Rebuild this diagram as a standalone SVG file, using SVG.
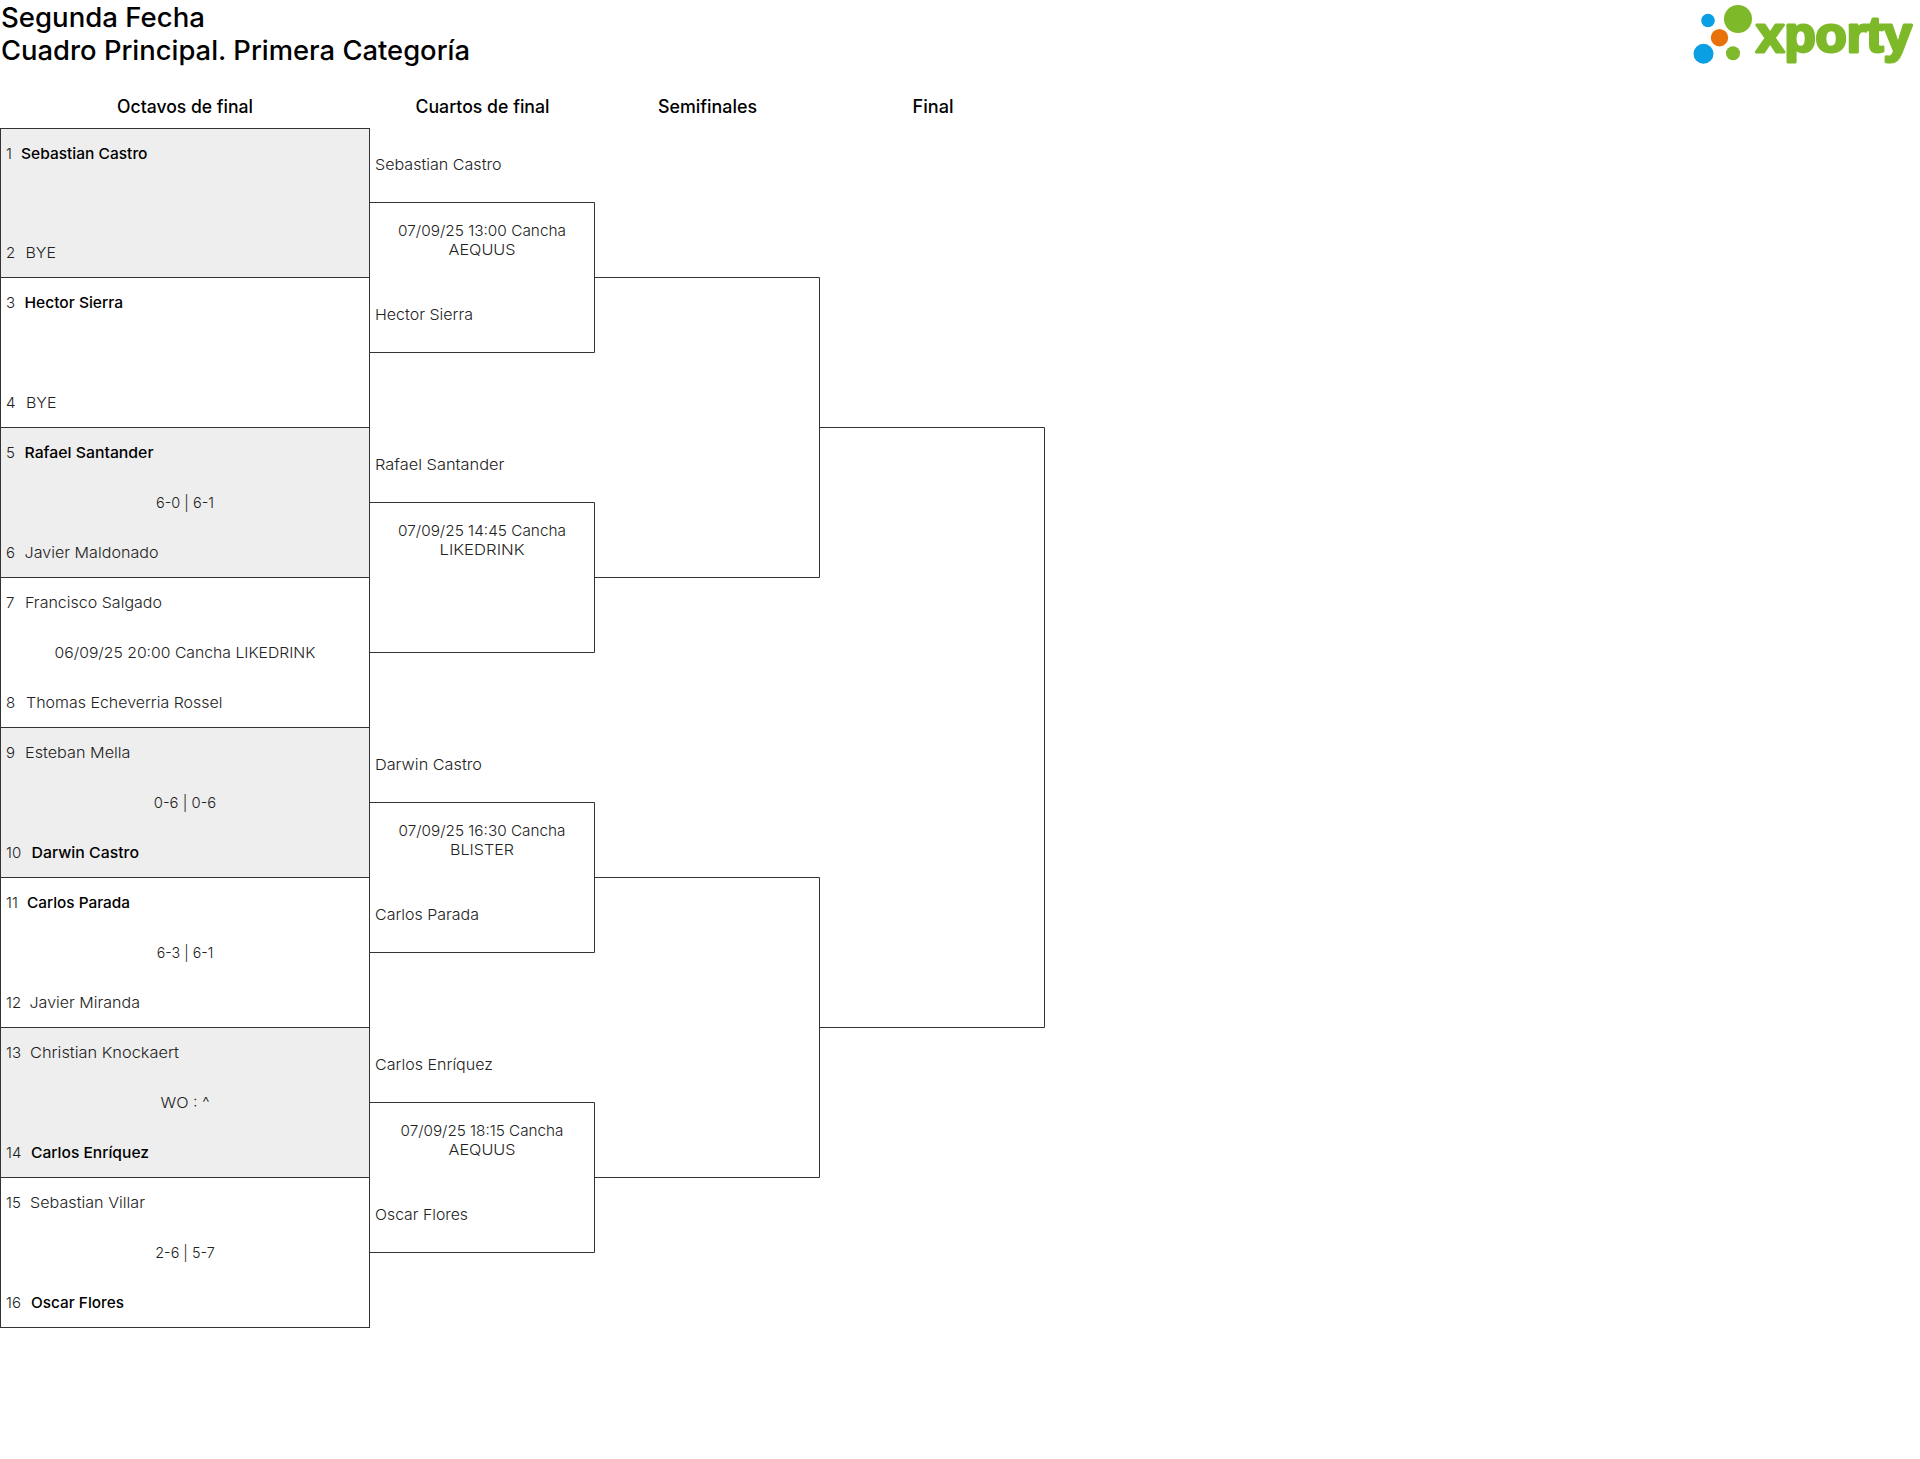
<svg xmlns="http://www.w3.org/2000/svg" width="1920" height="1459" viewBox="0 0 1920 1459">
<style>
text{font-family:"Inter","Open Sans","Liberation Sans",sans-serif;font-size:15px;fill:#222;font-weight:300}
.t{font-size:27px;fill:#000;font-weight:500}
.h{font-size:18px;fill:#000;font-weight:500;text-anchor:middle}
.w{fill:#000;font-weight:500}
.c{text-anchor:middle}
.box{stroke:#333;stroke-width:1}
.g{fill:#eee}
.n{fill:#fff}
.con{fill:none;stroke:#333;stroke-width:1}
.logo{font-family:"Liberation Sans",Arial,sans-serif;font-size:50px;font-weight:700;fill:#7db928;stroke:#7db928;stroke-width:3;stroke-linejoin:round}
</style>
<rect width="1920" height="1459" fill="#fff"/>
<g id="title">
<text class="t" x="1" y="26.5" textLength="204" lengthAdjust="spacingAndGlyphs">Segunda Fecha</text>
<text class="t" x="1" y="59.5" textLength="469" lengthAdjust="spacingAndGlyphs">Cuadro Principal. Primera Categoría</text>
</g>
<g id="logo">
<circle cx="1738" cy="19" r="14" fill="#7db928"/>
<circle cx="1708" cy="20.5" r="6.8" fill="#0a9fe3"/>
<circle cx="1719.5" cy="37.7" r="8.7" fill="#e8710a"/>
<circle cx="1703.5" cy="53.7" r="10" fill="#0a9fe3"/>
<circle cx="1733" cy="53.3" r="7" fill="#7db928"/>
<text class="logo" x="1756" y="52" textLength="156" lengthAdjust="spacingAndGlyphs">xporty</text>
</g>
<g id="headers">
<text class="h" x="185" y="113" textLength="136" lengthAdjust="spacingAndGlyphs">Octavos de final</text>
<text class="h" x="482.5" y="113" textLength="134" lengthAdjust="spacingAndGlyphs">Cuartos de final</text>
<text class="h" x="707.5" y="113" textLength="99" lengthAdjust="spacingAndGlyphs">Semifinales</text>
<text class="h" x="933" y="113" textLength="41" lengthAdjust="spacingAndGlyphs">Final</text>
</g>
<g id="connectors">
<path class="con" d="M369.5 202.5H594.5V352.5H369.5"/>
<path class="con" d="M369.5 502.5H594.5V652.5H369.5"/>
<path class="con" d="M369.5 802.5H594.5V952.5H369.5"/>
<path class="con" d="M369.5 1102.5H594.5V1252.5H369.5"/>
<path class="con" d="M594.5 277.5H819.5V577.5H594.5"/>
<path class="con" d="M594.5 877.5H819.5V1177.5H594.5"/>
<path class="con" d="M819.5 427.5H1044.5V1027.5H819.5"/>
</g>
<g id="match-1">
<rect class="box g" x="0.5" y="128.5" width="369" height="149"/>
<text x="6" y="158.5">1</text><text class="w" x="21" y="158.5" textLength="126.5" lengthAdjust="spacingAndGlyphs">Sebastian Castro</text>
<text x="6" y="257.5">2</text><text x="25.5" y="257.5" textLength="30.5" lengthAdjust="spacingAndGlyphs">BYE</text>
</g>
<g id="match-2">
<rect class="box n" x="0.5" y="277.5" width="369" height="150"/>
<text x="6" y="308">3</text><text class="w" x="24.5" y="308" textLength="98.5" lengthAdjust="spacingAndGlyphs">Hector Sierra</text>
<text x="6" y="408">4</text><text x="26" y="408" textLength="30.5" lengthAdjust="spacingAndGlyphs">BYE</text>
</g>
<g id="match-3">
<rect class="box g" x="0.5" y="427.5" width="369" height="150"/>
<text x="6" y="458">5</text><text class="w" x="24.5" y="458" textLength="129" lengthAdjust="spacingAndGlyphs">Rafael Santander</text>
<text class="c" x="185" y="508" textLength="58" lengthAdjust="spacingAndGlyphs">6-0 | 6-1</text>
<text x="6" y="558">6</text><text x="24.5" y="558" textLength="134" lengthAdjust="spacingAndGlyphs">Javier Maldonado</text>
</g>
<g id="match-4">
<rect class="box n" x="0.5" y="577.5" width="369" height="150"/>
<text x="6" y="608">7</text><text x="25" y="608" textLength="137" lengthAdjust="spacingAndGlyphs">Francisco Salgado</text>
<text class="c" x="185" y="658" textLength="261" lengthAdjust="spacingAndGlyphs">06/09/25 20:00 Cancha LIKEDRINK</text>
<text x="6" y="708">8</text><text x="26" y="708" textLength="196.5" lengthAdjust="spacingAndGlyphs">Thomas Echeverria Rossel</text>
</g>
<g id="match-5">
<rect class="box g" x="0.5" y="727.5" width="369" height="150"/>
<text x="6" y="758">9</text><text x="25" y="758" textLength="105.5" lengthAdjust="spacingAndGlyphs">Esteban Mella</text>
<text class="c" x="185" y="808" textLength="62.5" lengthAdjust="spacingAndGlyphs">0-6 | 0-6</text>
<text x="6" y="858">10</text><text class="w" x="31.5" y="858" textLength="107.5" lengthAdjust="spacingAndGlyphs">Darwin Castro</text>
</g>
<g id="match-6">
<rect class="box n" x="0.5" y="877.5" width="369" height="150"/>
<text x="6" y="908">11</text><text class="w" x="27" y="908" textLength="103" lengthAdjust="spacingAndGlyphs">Carlos Parada</text>
<text class="c" x="185" y="958" textLength="56.5" lengthAdjust="spacingAndGlyphs">6-3 | 6-1</text>
<text x="6" y="1008">12</text><text x="29.5" y="1008" textLength="110.5" lengthAdjust="spacingAndGlyphs">Javier Miranda</text>
</g>
<g id="match-7">
<rect class="box g" x="0.5" y="1027.5" width="369" height="150"/>
<text x="6" y="1058">13</text><text x="30" y="1058" textLength="149" lengthAdjust="spacingAndGlyphs">Christian Knockaert</text>
<text class="c" x="185" y="1108" textLength="49" lengthAdjust="spacingAndGlyphs">WO : ^</text>
<text x="6" y="1158">14</text><text class="w" x="31" y="1158" textLength="118" lengthAdjust="spacingAndGlyphs">Carlos Enríquez</text>
</g>
<g id="match-8">
<rect class="box n" x="0.5" y="1177.5" width="369" height="150"/>
<text x="6" y="1208">15</text><text x="30" y="1208" textLength="115" lengthAdjust="spacingAndGlyphs">Sebastian Villar</text>
<text class="c" x="185" y="1258" textLength="59.5" lengthAdjust="spacingAndGlyphs">2-6 | 5-7</text>
<text x="6" y="1308">16</text><text class="w" x="31" y="1308" textLength="93" lengthAdjust="spacingAndGlyphs">Oscar Flores</text>
</g>
<g id="qf-1">
<text x="375" y="170" textLength="126.5" lengthAdjust="spacingAndGlyphs">Sebastian Castro</text>
<text class="c" x="482" y="235.5" textLength="168" lengthAdjust="spacingAndGlyphs">07/09/25 13:00 Cancha</text>
<text class="c" x="482" y="254.5" textLength="67" lengthAdjust="spacingAndGlyphs">AEQUUS</text>
<text x="375" y="320" textLength="98" lengthAdjust="spacingAndGlyphs">Hector Sierra</text>
</g>
<g id="qf-2">
<text x="375" y="470" textLength="129.5" lengthAdjust="spacingAndGlyphs">Rafael Santander</text>
<text class="c" x="482" y="535.5" textLength="168" lengthAdjust="spacingAndGlyphs">07/09/25 14:45 Cancha</text>
<text class="c" x="482" y="554.5" textLength="85" lengthAdjust="spacingAndGlyphs">LIKEDRINK</text>
</g>
<g id="qf-3">
<text x="375" y="770" textLength="107" lengthAdjust="spacingAndGlyphs">Darwin Castro</text>
<text class="c" x="482" y="835.5" textLength="167" lengthAdjust="spacingAndGlyphs">07/09/25 16:30 Cancha</text>
<text class="c" x="482" y="854.5" textLength="64" lengthAdjust="spacingAndGlyphs">BLISTER</text>
<text x="375" y="920" textLength="104" lengthAdjust="spacingAndGlyphs">Carlos Parada</text>
</g>
<g id="qf-4">
<text x="375" y="1070" textLength="118" lengthAdjust="spacingAndGlyphs">Carlos Enríquez</text>
<text class="c" x="482" y="1135.5" textLength="163" lengthAdjust="spacingAndGlyphs">07/09/25 18:15 Cancha</text>
<text class="c" x="482" y="1154.5" textLength="67" lengthAdjust="spacingAndGlyphs">AEQUUS</text>
<text x="375" y="1220" textLength="93" lengthAdjust="spacingAndGlyphs">Oscar Flores</text>
</g>
</svg>
